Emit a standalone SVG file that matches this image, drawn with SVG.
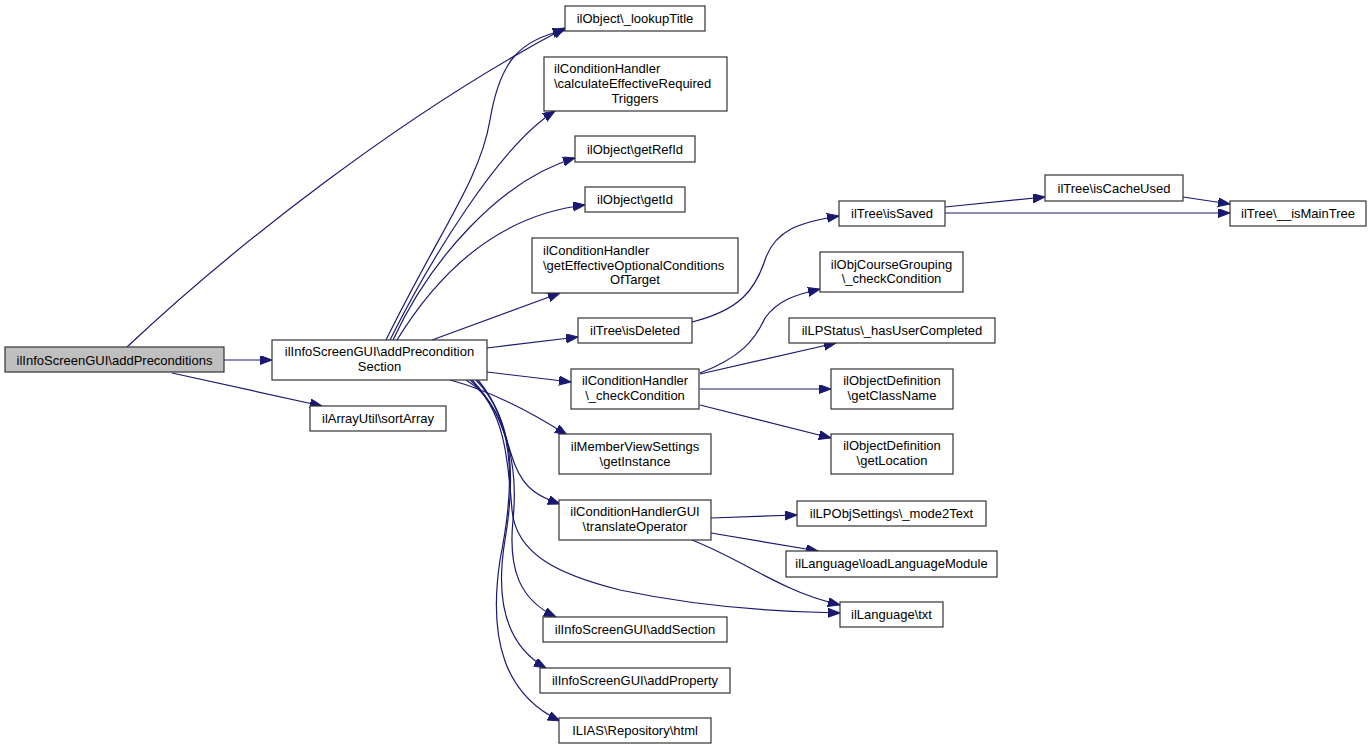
<svg xmlns="http://www.w3.org/2000/svg" width="1372" height="749" viewBox="0 0 1372 749">
<style>
.n rect{fill:#fff;stroke:#333;stroke-width:1.2}
.root rect{fill:#bfbfbf}
.n text{font-family:"Liberation Sans",Arial,sans-serif;font-size:13px;fill:#000;text-anchor:middle}
.n text.l{text-anchor:start}
.e path{fill:none;stroke:#191970;stroke-width:1.2;marker-end:url(#ah)}
</style>
<defs>
<marker id="ah" markerUnits="userSpaceOnUse" markerWidth="13" markerHeight="10" refX="12" refY="4.5" orient="auto">
<path d="M0,0 L12,4.5 L0,9 z" fill="#191970" stroke="#191970" stroke-width="1"/>
</marker>
</defs>
<rect width="1372" height="749" fill="#fff"/>
<g id="edges" class="e">
<path d="M224,360 L272,360"/>
<path d="M172,373 L322,406"/>
<path d="M127,347 C230,250 400,115 565,28"/>
<path d="M386,340 C440,230 480,180 490,120 C500,60 520,40 565,30"/>
<path d="M390,340 C430,260 500,145 555,111"/>
<path d="M393,340 C430,260 500,180 575,158"/>
<path d="M397,340 C440,270 500,215 585,205"/>
<path d="M432,340 L560,293"/>
<path d="M487,348 L578,337"/>
<path d="M487,372 L571,382"/>
<path d="M450,380 C480,388 520,405 567,435"/>
<path d="M466,380 C500,400 505,440 515,465 C525,490 540,497 560,504"/>
<path d="M470,380 C505,410 508,460 512,510 C516,555 560,575 620,590 C700,607 780,612 840,613"/>
<path d="M472,380 C510,420 518,470 513,520 C508,570 520,600 556,617"/>
<path d="M476,380 C515,420 515,480 505,540 C495,600 505,645 546,668"/>
<path d="M478,380 C520,430 512,500 500,560 C488,640 505,695 560,721"/>
<path d="M692,322 C740,310 755,290 765,260 C775,230 800,222 839,216"/>
<path d="M945,207 L1045,197"/>
<path d="M945,213 L1230,213"/>
<path d="M1183,197 L1230,204"/>
<path d="M700,373 C740,358 755,340 765,318 C778,300 795,295 820,289"/>
<path d="M700,374 L836,343"/>
<path d="M700,389 L831,389"/>
<path d="M700,405 L831,438"/>
<path d="M711,518 L797,515"/>
<path d="M711,533 L818,551"/>
<path d="M692,540 C730,555 760,575 790,588 C805,595 820,600 840,605"/>
</g>
<g id="n1" class="n root"><rect x="5" y="347" width="219" height="25"/><text x="114.5" y="364.5">ilInfoScreenGUI\addPreconditions</text></g>
<g id="n2" class="n"><rect x="272" y="340" width="215" height="40"/><text x="379.5" y="355.5">ilInfoScreenGUI\addPrecondition</text><text x="379.5" y="370.5">Section</text></g>
<g id="n3" class="n"><rect x="310" y="406" width="136" height="25"/><text x="378" y="423">ilArrayUtil\sortArray</text></g>
<g id="n4" class="n"><rect x="565" y="6" width="140" height="25"/><text x="635" y="23">ilObject\_lookupTitle</text></g>
<g id="n5" class="n"><rect x="544" y="57" width="183" height="54"/><text class="l" x="554" y="73">ilConditionHandler</text><text class="l" x="554" y="88">\calculateEffectiveRequired</text><text x="635" y="103">Triggers</text></g>
<g id="n6" class="n"><rect x="575" y="136" width="120" height="26"/><text x="635" y="153.5">ilObject\getRefId</text></g>
<g id="n7" class="n"><rect x="585" y="187" width="100" height="25"/><text x="635" y="204">ilObject\getId</text></g>
<g id="n8" class="n"><rect x="532" y="238" width="206" height="55"/><text class="l" x="543" y="254.5">ilConditionHandler</text><text class="l" x="543" y="269.5">\getEffectiveOptionalConditions</text><text x="635" y="284">OfTarget</text></g>
<g id="n9" class="n"><rect x="578" y="318" width="114" height="25"/><text x="635" y="335">ilTree\isDeleted</text></g>
<g id="n10" class="n"><rect x="571" y="369" width="128" height="40"/><text x="635" y="385">ilConditionHandler</text><text x="635" y="400">\_checkCondition</text></g>
<g id="n11" class="n"><rect x="559" y="434" width="152" height="40"/><text x="635" y="450.5">ilMemberViewSettings</text><text x="635" y="465.5">\getInstance</text></g>
<g id="n12" class="n"><rect x="559" y="500" width="152" height="40"/><text x="635" y="516">ilConditionHandlerGUI</text><text x="635" y="531">\translateOperator</text></g>
<g id="n13" class="n"><rect x="543" y="617" width="184" height="25"/><text x="635" y="634">ilInfoScreenGUI\addSection</text></g>
<g id="n14" class="n"><rect x="540" y="668" width="190" height="25"/><text x="635" y="685">ilInfoScreenGUI\addProperty</text></g>
<g id="n15" class="n"><rect x="559" y="718" width="152" height="25"/><text x="635" y="735">ILIAS\Repository\html</text></g>
<g id="n16" class="n"><rect x="839" y="201" width="106" height="25"/><text x="892" y="218">ilTree\isSaved</text></g>
<g id="n17" class="n"><rect x="1045" y="175" width="138" height="26"/><text x="1114" y="192.5">ilTree\isCacheUsed</text></g>
<g id="n18" class="n"><rect x="1230" y="201" width="136" height="25"/><text x="1298" y="218">ilTree\__isMainTree</text></g>
<g id="n19" class="n"><rect x="820" y="252" width="143" height="40"/><text x="891.5" y="268.5">ilObjCourseGrouping</text><text x="891.5" y="283">\_checkCondition</text></g>
<g id="n20" class="n"><rect x="789" y="318" width="206" height="25"/><text x="892" y="335">ilLPStatus\_hasUserCompleted</text></g>
<g id="n21" class="n"><rect x="831" y="369" width="122" height="40"/><text x="892" y="385">ilObjectDefinition</text><text x="892" y="400">\getClassName</text></g>
<g id="n22" class="n"><rect x="831" y="434" width="122" height="40"/><text x="892" y="450">ilObjectDefinition</text><text x="892" y="465">\getLocation</text></g>
<g id="n23" class="n"><rect x="797" y="501" width="189" height="25"/><text x="891.5" y="518">ilLPObjSettings\_mode2Text</text></g>
<g id="n24" class="n"><rect x="786" y="551" width="211" height="26"/><text x="891.5" y="568">ilLanguage\loadLanguageModule</text></g>
<g id="n25" class="n"><rect x="840" y="602" width="103" height="25"/><text x="891.5" y="619">ilLanguage\txt</text></g>
</svg>
